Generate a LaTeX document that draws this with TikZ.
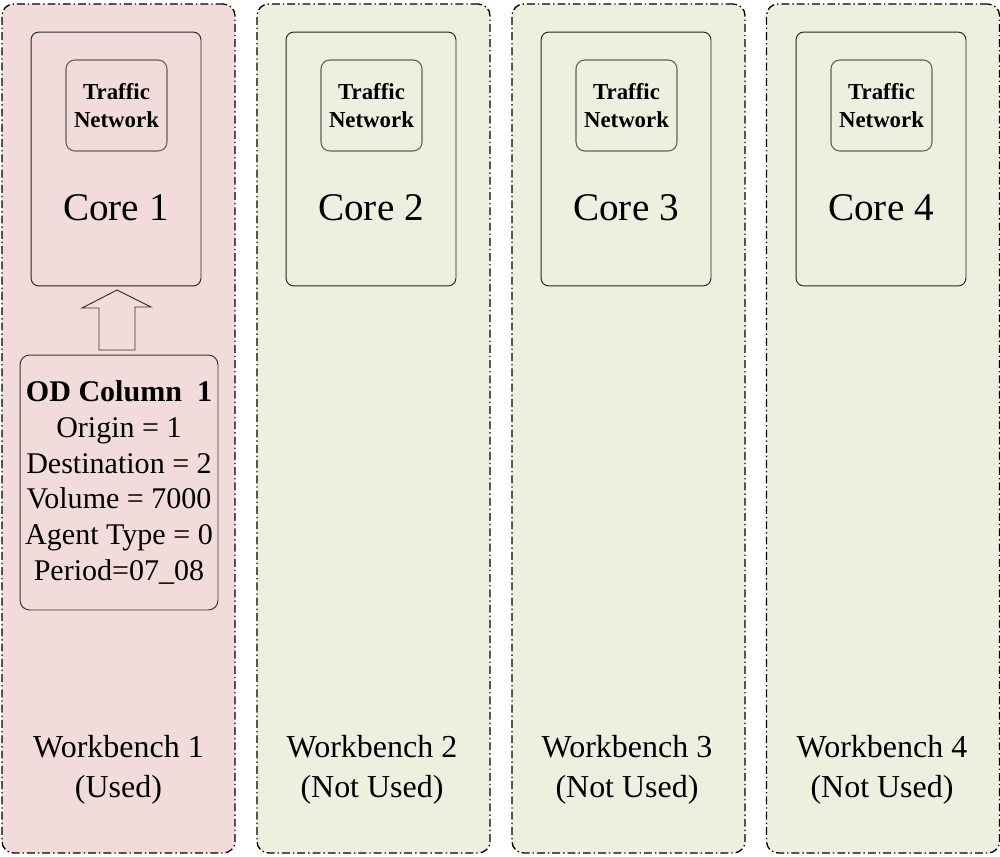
\documentclass[tikz,border=0pt]{standalone}
\usepackage{fontspec}
\setmainfont{Liberation Serif}
\definecolor{usedfill}{HTML}{F2DCDB}
\definecolor{freefill}{HTML}{EBF1DE}
\definecolor{tnborder}{HTML}{606060}
\begin{document}
\begin{tikzpicture}[x=0.02cm,y=-0.02cm,
  wbbox/.style={draw=black,line width=0.75pt,rounded corners=6.5pt,
    dash pattern=on 4.5pt off 1.7pt on 0.8pt off 1.7pt,
    minimum width=4.66cm,minimum height=16.98cm,inner sep=0pt},
  corebox/.style={draw=black!85,line width=0.55pt,rounded corners=4.5pt,
    minimum width=3.4cm,minimum height=5.08cm,inner sep=0pt},
  tnbox/.style={draw=tnborder,line width=0.6pt,rounded corners=5pt,
    minimum width=2.02cm,minimum height=1.82cm,inner sep=0pt,
    align=center,font=\fontsize{13}{16.4}\selectfont\bfseries},
  corelabel/.style={font=\fontsize{22.3}{26}\selectfont,inner sep=0pt},
  wblabel/.style={align=center,font=\fontsize{18.2}{22.7}\selectfont,inner sep=0pt},
  odbox/.style={draw=black!80,line width=0.55pt,rounded corners=5.5pt,
    minimum width=3.96cm,minimum height=5.1cm,inner sep=0pt,align=center,
    font=\fontsize{17.1}{20.4}\selectfont},
  arrowshape/.style={draw=black!80,line width=0.55pt,fill=usedfill}]
\useasboundingbox (0,0) rectangle (1000,856);
% workbenches
\node[wbbox,fill=usedfill] (wb1) at (118.5,428.5) {};
\node[wbbox,fill=freefill] (wb2) at (373.5,428.5) {};
\node[wbbox,fill=freefill] (wb3) at (628.5,428.5) {};
\node[wbbox,fill=freefill] (wb4) at (883,428.5) {};
% cores
\foreach \i/\cx in {1/116,2/371,3/626,4/881}{
  \node[corebox] (c\i) at (\cx,159) {};
  \node[tnbox] (tn\i) at (\cx+0.5,105.5) {Traffic\\Network};
  \node[corelabel] (cl\i) at (\cx,208) {Core \i};
}
% workbench labels
\node[wblabel] (wl1) at (118.5,770) {Workbench 1\\(Used)};
\node[wblabel] (wl2) at (372,770) {Workbench 2\\(Not Used)};
\node[wblabel] (wl3) at (627,770) {Workbench 3\\(Not Used)};
\node[wblabel] (wl4) at (882,770) {Workbench 4\\(Not Used)};
% OD column
\node[odbox] (od) at (119,482.5) {\textbf{OD Column\ \ 1}\\Origin = 1\\Destination = 2\\Volume = 7000\\Agent Type = 0\\Period=07\_08};
% block arrow from OD to core 1
\coordinate (abase) at (117,350);
\coordinate (atip) at (117,290);
\draw[arrowshape] (abase) ++(-18,0) -- ++(0,-42) -- ++(-17,0) -- (atip) -- ++(34,17) -- ++(-16,0) -- ++(0,43) -- cycle;
\end{tikzpicture}
\end{document}
